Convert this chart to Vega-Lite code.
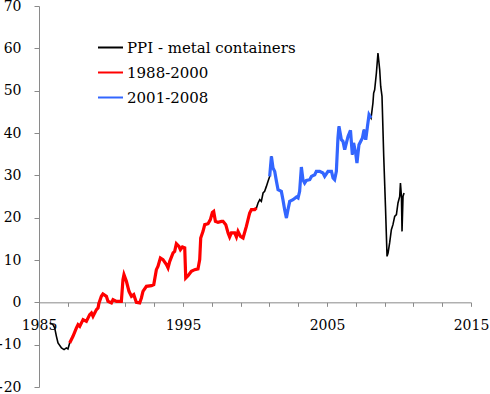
{
  "$schema": "https://vega.github.io/schema/vega-lite/v6.json",
  "width": 432,
  "height": 381,
  "autosize": {"type": "none"},
  "padding": {"left": 39, "top": 6, "right": 19, "bottom": 7},
  "background": "white",
  "config": {
    "view": {"stroke": null},
    "axis": {
      "labelFont": "DejaVu Serif",
      "labelFontSize": 14,
      "labelColor": "black",
      "domainColor": "#8a8a8a",
      "tickColor": "#8a8a8a",
      "grid": false,
      "title": null
    },
    "legend": {
      "labelFont": "DejaVu Serif",
      "labelFontSize": 15,
      "labelColor": "black",
      "labelLimit": 400
    }
  },
  "data": {
    "values": [
      {"t": 1985.74, "v": -4.86, "p": "none"},
      {"t": 1985.97, "v": -5.27, "p": "none"},
      {"t": 1986.09, "v": -6.04, "p": "none"},
      {"t": 1986.21, "v": -8.03, "p": "none"},
      {"t": 1986.32, "v": -9.59, "p": "none"},
      {"t": 1986.56, "v": -10.77, "p": "none"},
      {"t": 1986.74, "v": -11.17, "p": "none"},
      {"t": 1986.9, "v": -10.77, "p": "none"},
      {"t": 1987.01, "v": -11.0, "p": "none"},
      {"t": 1987.13, "v": -9.59, "p": "1988-2000"},
      {"t": 1987.36, "v": -8.03, "p": "1988-2000"},
      {"t": 1987.6, "v": -6.04, "p": "1988-2000"},
      {"t": 1987.71, "v": -5.27, "p": "1988-2000"},
      {"t": 1987.83, "v": -5.67, "p": "1988-2000"},
      {"t": 1988.06, "v": -4.08, "p": "1988-2000"},
      {"t": 1988.29, "v": -4.49, "p": "1988-2000"},
      {"t": 1988.52, "v": -2.9, "p": "1988-2000"},
      {"t": 1988.64, "v": -2.5, "p": "1988-2000"},
      {"t": 1988.75, "v": -3.31, "p": "1988-2000"},
      {"t": 1988.99, "v": -1.72, "p": "1988-2000"},
      {"t": 1989.1, "v": -1.32, "p": "1988-2000"},
      {"t": 1989.17, "v": -0.14, "p": "1988-2000"},
      {"t": 1989.33, "v": 1.42, "p": "1988-2000"},
      {"t": 1989.44, "v": 1.98, "p": "1988-2000"},
      {"t": 1989.68, "v": 1.42, "p": "1988-2000"},
      {"t": 1989.79, "v": 0.24, "p": "1988-2000"},
      {"t": 1990.03, "v": -0.14, "p": "1988-2000"},
      {"t": 1990.14, "v": 0.64, "p": "1988-2000"},
      {"t": 1990.38, "v": 0.24, "p": "1988-2000"},
      {"t": 1990.72, "v": 0.24, "p": "1988-2000"},
      {"t": 1990.83, "v": 5.36, "p": "1988-2000"},
      {"t": 1990.9, "v": 6.54, "p": "1988-2000"},
      {"t": 1991.07, "v": 4.96, "p": "1988-2000"},
      {"t": 1991.25, "v": 2.6, "p": "1988-2000"},
      {"t": 1991.42, "v": 1.42, "p": "1988-2000"},
      {"t": 1991.58, "v": 1.82, "p": "1988-2000"},
      {"t": 1991.76, "v": 0.0, "p": "1988-2000"},
      {"t": 1991.99, "v": -0.14, "p": "1988-2000"},
      {"t": 1992.11, "v": 1.04, "p": "1988-2000"},
      {"t": 1992.22, "v": 2.6, "p": "1988-2000"},
      {"t": 1992.46, "v": 3.78, "p": "1988-2000"},
      {"t": 1992.81, "v": 3.94, "p": "1988-2000"},
      {"t": 1992.97, "v": 4.18, "p": "1988-2000"},
      {"t": 1993.15, "v": 7.72, "p": "1988-2000"},
      {"t": 1993.26, "v": 8.5, "p": "1988-2000"},
      {"t": 1993.43, "v": 10.48, "p": "1988-2000"},
      {"t": 1993.61, "v": 10.08, "p": "1988-2000"},
      {"t": 1993.85, "v": 8.9, "p": "1988-2000"},
      {"t": 1993.96, "v": 8.12, "p": "1988-2000"},
      {"t": 1994.08, "v": 9.68, "p": "1988-2000"},
      {"t": 1994.31, "v": 11.66, "p": "1988-2000"},
      {"t": 1994.42, "v": 12.04, "p": "1988-2000"},
      {"t": 1994.54, "v": 13.86, "p": "1988-2000"},
      {"t": 1994.72, "v": 13.22, "p": "1988-2000"},
      {"t": 1994.82, "v": 12.44, "p": "1988-2000"},
      {"t": 1994.96, "v": 13.08, "p": "1988-2000"},
      {"t": 1995.12, "v": 12.85, "p": "1988-2000"},
      {"t": 1995.19, "v": 5.76, "p": "1988-2000"},
      {"t": 1995.35, "v": 6.3, "p": "1988-2000"},
      {"t": 1995.58, "v": 7.32, "p": "1988-2000"},
      {"t": 1995.81, "v": 7.72, "p": "1988-2000"},
      {"t": 1996.04, "v": 7.89, "p": "1988-2000"},
      {"t": 1996.16, "v": 10.08, "p": "1988-2000"},
      {"t": 1996.23, "v": 15.21, "p": "1988-2000"},
      {"t": 1996.39, "v": 16.76, "p": "1988-2000"},
      {"t": 1996.51, "v": 18.35, "p": "1988-2000"},
      {"t": 1996.74, "v": 18.58, "p": "1988-2000"},
      {"t": 1996.9, "v": 19.53, "p": "1988-2000"},
      {"t": 1997.04, "v": 21.25, "p": "1988-2000"},
      {"t": 1997.13, "v": 21.49, "p": "1988-2000"},
      {"t": 1997.25, "v": 19.13, "p": "1988-2000"},
      {"t": 1997.43, "v": 18.89, "p": "1988-2000"},
      {"t": 1997.67, "v": 19.13, "p": "1988-2000"},
      {"t": 1997.78, "v": 19.13, "p": "1988-2000"},
      {"t": 1997.97, "v": 18.35, "p": "1988-2000"},
      {"t": 1998.13, "v": 16.39, "p": "1988-2000"},
      {"t": 1998.24, "v": 15.44, "p": "1988-2000"},
      {"t": 1998.36, "v": 16.39, "p": "1988-2000"},
      {"t": 1998.59, "v": 16.39, "p": "1988-2000"},
      {"t": 1998.71, "v": 15.44, "p": "1988-2000"},
      {"t": 1998.82, "v": 16.76, "p": "1988-2000"},
      {"t": 1998.99, "v": 15.58, "p": "1988-2000"},
      {"t": 1999.17, "v": 15.21, "p": "1988-2000"},
      {"t": 1999.4, "v": 17.95, "p": "1988-2000"},
      {"t": 1999.63, "v": 21.11, "p": "1988-2000"},
      {"t": 1999.75, "v": 21.89, "p": "1988-2000"},
      {"t": 1999.98, "v": 21.89, "p": "1988-2000"},
      {"t": 2000.1, "v": 22.29, "p": "1988-2000"},
      {"t": 2000.21, "v": 23.47, "p": "none"},
      {"t": 2000.33, "v": 24.25, "p": "none"},
      {"t": 2000.44, "v": 23.85, "p": "none"},
      {"t": 2000.56, "v": 25.83, "p": "none"},
      {"t": 2000.67, "v": 26.21, "p": "none"},
      {"t": 2000.79, "v": 27.39, "p": "none"},
      {"t": 2000.9, "v": 28.57, "p": "none"},
      {"t": 2001.02, "v": 29.75, "p": "2001-2008"},
      {"t": 2001.14, "v": 34.47, "p": "2001-2008"},
      {"t": 2001.25, "v": 31.74, "p": "2001-2008"},
      {"t": 2001.37, "v": 30.93, "p": "2001-2008"},
      {"t": 2001.49, "v": 28.57, "p": "2001-2008"},
      {"t": 2001.6, "v": 26.61, "p": "2001-2008"},
      {"t": 2001.83, "v": 26.21, "p": "2001-2008"},
      {"t": 2001.94, "v": 24.25, "p": "2001-2008"},
      {"t": 2002.06, "v": 21.89, "p": "2001-2008"},
      {"t": 2002.18, "v": 19.93, "p": "2001-2008"},
      {"t": 2002.29, "v": 21.89, "p": "2001-2008"},
      {"t": 2002.41, "v": 23.85, "p": "2001-2008"},
      {"t": 2002.64, "v": 24.25, "p": "2001-2008"},
      {"t": 2002.88, "v": 24.89, "p": "2001-2008"},
      {"t": 2002.99, "v": 24.65, "p": "2001-2008"},
      {"t": 2003.1, "v": 26.21, "p": "2001-2008"},
      {"t": 2003.22, "v": 31.97, "p": "2001-2008"},
      {"t": 2003.33, "v": 28.97, "p": "2001-2008"},
      {"t": 2003.45, "v": 28.19, "p": "2001-2008"},
      {"t": 2003.57, "v": 28.81, "p": "2001-2008"},
      {"t": 2003.8, "v": 28.97, "p": "2001-2008"},
      {"t": 2003.92, "v": 29.75, "p": "2001-2008"},
      {"t": 2004.15, "v": 30.15, "p": "2001-2008"},
      {"t": 2004.26, "v": 30.93, "p": "2001-2008"},
      {"t": 2004.49, "v": 30.93, "p": "2001-2008"},
      {"t": 2004.72, "v": 30.55, "p": "2001-2008"},
      {"t": 2004.84, "v": 29.75, "p": "2001-2008"},
      {"t": 2005.07, "v": 30.93, "p": "2001-2008"},
      {"t": 2005.31, "v": 30.93, "p": "2001-2008"},
      {"t": 2005.42, "v": 29.37, "p": "2001-2008"},
      {"t": 2005.53, "v": 28.97, "p": "2001-2008"},
      {"t": 2005.65, "v": 30.93, "p": "2001-2008"},
      {"t": 2005.76, "v": 38.82, "p": "2001-2008"},
      {"t": 2005.83, "v": 41.56, "p": "2001-2008"},
      {"t": 2006.0, "v": 38.42, "p": "2001-2008"},
      {"t": 2006.11, "v": 38.02, "p": "2001-2008"},
      {"t": 2006.23, "v": 36.06, "p": "2001-2008"},
      {"t": 2006.46, "v": 39.2, "p": "2001-2008"},
      {"t": 2006.63, "v": 40.61, "p": "2001-2008"},
      {"t": 2006.76, "v": 34.88, "p": "2001-2008"},
      {"t": 2006.85, "v": 37.64, "p": "2001-2008"},
      {"t": 2006.99, "v": 35.28, "p": "2001-2008"},
      {"t": 2007.08, "v": 32.92, "p": "2001-2008"},
      {"t": 2007.22, "v": 37.24, "p": "2001-2008"},
      {"t": 2007.46, "v": 38.82, "p": "2001-2008"},
      {"t": 2007.57, "v": 40.78, "p": "2001-2008"},
      {"t": 2007.69, "v": 38.42, "p": "2001-2008"},
      {"t": 2007.81, "v": 41.56, "p": "2001-2008"},
      {"t": 2007.92, "v": 44.32, "p": "2001-2008"},
      {"t": 2008.06, "v": 43.54, "p": "2001-2008"},
      {"t": 2008.19, "v": 47.08, "p": "none"},
      {"t": 2008.24, "v": 49.44, "p": "none"},
      {"t": 2008.31, "v": 50.22, "p": "none"},
      {"t": 2008.43, "v": 54.17, "p": "none"},
      {"t": 2008.54, "v": 58.9, "p": "none"},
      {"t": 2008.66, "v": 54.95, "p": "none"},
      {"t": 2008.73, "v": 51.0, "p": "none"},
      {"t": 2008.82, "v": 48.64, "p": "none"},
      {"t": 2008.94, "v": 34.47, "p": "none"},
      {"t": 2009.06, "v": 22.67, "p": "none"},
      {"t": 2009.17, "v": 10.86, "p": "none"},
      {"t": 2009.24, "v": 11.66, "p": "none"},
      {"t": 2009.35, "v": 14.03, "p": "none"},
      {"t": 2009.47, "v": 17.17, "p": "none"},
      {"t": 2009.58, "v": 18.35, "p": "none"},
      {"t": 2009.7, "v": 20.31, "p": "none"},
      {"t": 2009.82, "v": 20.71, "p": "none"},
      {"t": 2009.93, "v": 23.47, "p": "none"},
      {"t": 2010.05, "v": 25.03, "p": "none"},
      {"t": 2010.1, "v": 28.19, "p": "none"},
      {"t": 2010.17, "v": 25.03, "p": "none"},
      {"t": 2010.21, "v": 16.76, "p": "none"},
      {"t": 2010.28, "v": 25.03, "p": "none"},
      {"t": 2010.35, "v": 25.83, "p": "none"}
    ]
  },
  "encoding": {
    "x": {
      "field": "t",
      "type": "quantitative",
      "scale": {"domain": [1985, 2015], "nice": false, "zero": false},
      "axis": {
        "values": [1985, 1987, 1989, 1991, 1993, 1995, 1997, 1999, 2001, 2003, 2005, 2007, 2009, 2011, 2013, 2015],
        "format": "d",
        "labelExpr": "(datum.value - 1985) % 10 == 0 ? datum.label : ''",
        "offset": -84.67,
        "tickSize": 4,
        "labelPadding": 12,
        "labelFlush": false,
        "labelOverlap": false
      }
    },
    "y": {
      "field": "v",
      "type": "quantitative",
      "scale": {"domain": [-20, 70], "nice": false, "zero": false},
      "axis": {
        "values": [-20, -10, 0, 10, 20, 30, 40, 50, 60, 70],
        "tickSize": 5,
        "labelPadding": 13,
        "labelFlush": false,
        "labelOverlap": false
      }
    }
  },
  "layer": [
    {
      "mark": {"type": "line", "strokeWidth": 1.6},
      "encoding": {
        "color": {
          "datum": "PPI - metal containers",
          "type": "nominal",
          "scale": {
            "domain": ["PPI - metal containers", "1988-2000", "2001-2008"],
            "range": ["#000000", "#ff0000", "#3366ff"]
          },
          "legend": {
            "title": null,
            "orient": "none",
            "legendX": 58,
            "legendY": 28,
            "symbolType": "stroke",
            "symbolSize": 625,
            "symbolStrokeWidth": 2,
            "labelOffset": 3,
            "rowPadding": 3,
            "padding": 0
          }
        }
      }
    },
    {
      "transform": [{"filter": "datum.p != 'none'"}],
      "mark": {"type": "line", "strokeWidth": 3.2},
      "encoding": {
        "color": {
          "field": "p",
          "type": "nominal",
          "legend": {
            "title": null,
            "orient": "none",
            "legendX": 58,
            "legendY": 28,
            "symbolType": "stroke",
            "symbolSize": 625,
            "symbolStrokeWidth": 2,
            "labelOffset": 3,
            "rowPadding": 3,
            "padding": 0
          }
        }
      }
    }
  ]
}
